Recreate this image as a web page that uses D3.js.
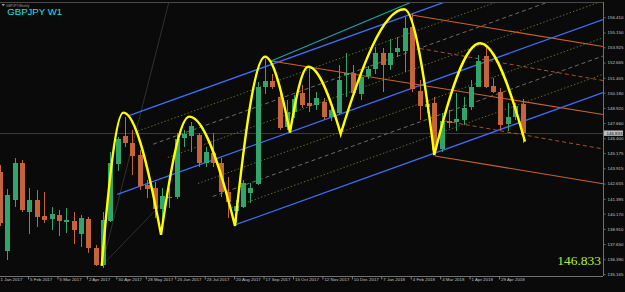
<!DOCTYPE html>
<html><head><meta charset="utf-8">
<script src="https://cdn.jsdelivr.net/npm/d3@7"></script>
<style>html,body{margin:0;padding:0;background:#0a0a0a;overflow:hidden}</style>
</head><body><svg id="c" width="625" height="292"></svg>
<script>
// ---- data (weekly GBPJPY candles, bar index 0 = week of 1 Jan 2017) ----
const opens  = [143.64,137.11,141.30,144.34,140.33,141.30,139.98,139.70,140.06,139.51,139.59,138.49,139.73,137.36,135.92,139.59,144.28,146.62,146.04,145.02,142.54,142.32,140.53,141.57,141.52,146.40,146.59,146.68,144.34,145.21,144.34,141.99,140.42,140.75,141.85,142.60,150.62,151.17,149.84,147.36,148.60,150.12,149.30,149.16,149.38,148.14,148.52,151.61,151.83,150.07,151.55,152.11,153.48,152.46,153.56,153.65,155.58,150.34,149.02,149.30,145.49,147.86,147.78,147.92,149.02,150.67,153.21,150.73,150.21,147.59,148.14,149.24];
const highs  = [144.19,142.18,144.75,144.61,142.32,142.13,141.99,140.70,140.47,140.61,140.33,140.06,139.92,137.58,140.33,145.29,146.53,148.14,147.09,145.43,142.95,142.79,142.27,142.27,146.82,147.09,147.78,146.82,145.71,146.82,144.75,143.23,141.30,142.95,142.73,151.06,152.94,151.72,150.73,149.57,149.98,150.81,152.19,150.26,149.74,148.99,152.46,153.43,152.46,151.72,152.38,153.98,153.85,154.59,154.76,156.46,156.74,151.22,149.43,149.79,148.47,148.74,150.17,149.84,151.22,153.29,153.98,151.36,150.54,149.30,149.30,149.63];
const lows   = [139.15,136.34,140.70,140.33,138.46,139.09,139.37,138.82,138.35,138.55,137.66,137.44,136.89,135.84,135.65,139.48,143.72,145.66,143.37,142.13,141.44,139.79,139.65,140.61,141.38,145.71,145.29,144.05,144.05,144.05,141.57,139.79,139.37,140.61,141.03,142.54,150.07,150.48,147.09,147.09,148.08,148.88,148.60,148.74,147.92,147.83,148.33,149.84,149.79,149.57,151.28,151.72,150.26,152.05,153.15,151.91,150.26,147.92,148.47,145.21,145.29,147.23,147.03,147.50,148.74,150.62,150.54,150.12,147.09,147.03,147.92,145.99];
const closes = [139.42,141.71,144.38,140.47,141.30,139.92,139.65,140.14,139.59,139.65,138.82,139.79,137.31,135.92,139.65,144.38,146.32,145.99,144.94,142.46,142.21,140.53,141.63,141.44,146.32,146.76,147.42,144.34,145.29,144.34,141.99,141.16,140.80,142.73,142.27,150.62,151.17,150.62,147.23,148.60,149.65,149.16,149.07,149.71,148.19,148.74,151.22,151.83,150.12,151.45,152.11,153.43,152.46,153.48,153.85,155.50,150.45,149.07,149.24,145.43,147.86,147.69,148.02,148.88,150.62,152.82,150.67,150.26,147.50,148.14,149.07,146.83];
const dateLabels = ["1 Jan 2017","5 Feb 2017","5 Mar 2017","2 Apr 2017","30 Apr 2017","28 May 2017","25 Jun 2017","23 Jul 2017","20 Aug 2017","17 Sep 2017","15 Oct 2017","12 Nov 2017","10 Dec 2017","7 Jan 2018","4 Feb 2018","4 Mar 2018","1 Apr 2018","29 Apr 2018"];
const priceTicks = [156.410,155.150,153.925,152.665,151.405,150.180,148.920,147.660,146.400,145.175,143.915,142.655,141.395,140.170,138.910,137.650,136.390,135.165];
const lastPrice = 146.833;
// swing points of the hand-drawn yellow wave [bar index, price]
const swingIdx   = [13.82,16.75,21.88,25.72,31.93,36.01,39.40,41.89,46.29,54.93,59.01,65.22,71.33];
const swingPrice = [135.84,148.52,138.41,148.19,139.15,153.15,146.87,152.32,146.76,157.07,145.02,154.26,146.12];
// rising channel (blue): anchors [index, price], common slope price/bar
const blueAnchorIdx   = [17.43,15.94,31.93];
const blueAnchorPrice = [148.25,141.77,139.23];
const blueSlope = 0.2191;
const subLevels = [0.25,0.5,0.75];
const subStartUpper = [18.75,20.8,22.8];
const subStartLower = [26.9,28.9,31.0];
// teal line
const tealLine = [36.68,152.75,81.93,164.32];
// falling channel (orange) solid and dashed
const orangeSolid  = [[36.68,152.82,81.93,148.37],[55.94,156.60,81.93,153.99],[59.10,144.94,81.93,142.64]];
const orangeDashed = [[57.07,153.83,81.93,151.18],[60.46,147.83,81.93,145.52]];
// faint fan lines
const fanLines = [[13.82,135.84,23.02,157.84],[13.82,135.84,23.1,141.71]];

// ---- drawing ----
const W=625,H=292,plotR=603,plotT=2,plotB=276;
const svg=d3.select('#c');
svg.append('rect').attr('width',W).attr('height',H).attr('fill','#0a0a0a');
const x=d3.scaleLinear().domain([0,82]).range([0,603.5]);
const y=d3.scaleLinear().domain([136.39,156.41]).range([259.3,17.3]);
svg.append('defs').append('clipPath').attr('id','clip').append('rect')
  .attr('x',0).attr('y',plotT).attr('width',plotR).attr('height',plotB-plotT);
const g=svg.append('g').attr('clip-path','url(#clip)');

// current price horizontal line
g.append('line').attr('x1',0).attr('x2',plotR).attr('y1',Math.round(y(lastPrice))+0.5).attr('y2',Math.round(y(lastPrice))+0.5)
  .attr('stroke','#3a3a3a').attr('stroke-width',1);

function seg(arr,color,w,dash){
  g.append('line').attr('x1',x(arr[0])).attr('y1',y(arr[1])).attr('x2',x(arr[2])).attr('y2',y(arr[3]))
   .attr('stroke',color).attr('stroke-width',w).attr('stroke-dasharray',dash||null);
}
fanLines.forEach(l=>seg(l,'#3a3a3a',0.8));
const bluePrice=(k,i)=>blueAnchorPrice[k]+blueSlope*(i-blueAnchorIdx[k]);
const endI=81.93;
// sub-lines
subLevels.forEach((f,j)=>{
  const col = f===0.5?'#767676':'#6e6e38';
  const dash = f===0.5?'4,3':'1.5,2';
  [[0,1,subStartUpper[j]],[1,2,subStartLower[j]]].forEach(([a,b,s])=>{
    const p1=bluePrice(a,s)+f*(bluePrice(b,s)-bluePrice(a,s));
    const p2=bluePrice(a,endI)+f*(bluePrice(b,endI)-bluePrice(a,endI));
    seg([s,p1,endI,p2],col,0.9,dash);
  });
});
orangeDashed.forEach(l=>seg(l,'#b8582a',0.9,'4,3'));
orangeSolid.forEach(l=>seg(l,'#cc6428',1.1));
seg(tealLine,'#1ea5a5',1.1);
blueAnchorIdx.forEach((a,k)=>seg([a,blueAnchorPrice[k],endI,bluePrice(k,endI)],'#3f6ff5',1.3));

// candles
const bull='#32a56b', bear='#c4643a';
const idx=d3.range(opens.length);
const cg=g.append('g').attr('shape-rendering','crispEdges');
cg.selectAll('rect.w').data(idx).join('rect').attr('class','w')
  .attr('x',i=>Math.round(x(i))).attr('width',1)
  .attr('y',i=>y(highs[i])).attr('height',i=>y(lows[i])-y(highs[i]))
  .attr('fill',i=>closes[i]>=opens[i]?bull:bear);
cg.selectAll('rect.b').data(idx).join('rect').attr('class','b')
  .attr('x',i=>Math.round(x(i))-2).attr('width',5)
  .attr('y',i=>y(Math.max(opens[i],closes[i])))
  .attr('height',i=>Math.max(1,Math.abs(y(opens[i])-y(closes[i]))))
  .attr('fill',i=>closes[i]>=opens[i]?bull:bear);

// yellow wave
const pts=swingIdx.map((v,i)=>[x(v),y(swingPrice[i])]);
let d='M'+pts[0][0]+','+pts[0][1];
for(let k=1;k<pts.length;k++){
  const [x0,y0]=pts[k-1],[x1,y1]=pts[k];
  const up = y1<y0;
  if(up){
    d+=`C${x0+(x1-x0)*0.33},${y0+(y1-y0)*0.55} ${x0+(x1-x0)*0.67},${y1} ${x1},${y1}`;
  } else {
    d+=`C${x0+(x1-x0)*0.33},${y0} ${x0+(x1-x0)*0.67},${y0+(y1-y0)*0.45} ${x1},${y1}`;
  }
}
g.append('path').attr('d',d).attr('fill','none').attr('stroke','#ffff00').attr('stroke-width',2.4);

// frame
svg.append('line').attr('x1',0).attr('x2',plotR).attr('y1',plotT+0.5).attr('y2',plotT+0.5).attr('stroke','#4a4a4a');

// price axis
const ya=svg.append('g').attr('transform',`translate(${plotR+0.5},0)`)
  .call(d3.axisRight(y).tickValues(priceTicks).tickFormat(d3.format('.3f')).tickSize(2).tickPadding(2));
ya.select('.domain').attr('stroke','#707070').attr('d',`M0,${plotT}V${plotB}`);
ya.selectAll('.tick line').attr('stroke','#707070');
ya.selectAll('text').attr('fill','#c4c4c4').attr('font-family','Liberation Sans, Arial').attr('font-size',4.4);
const lp=svg.append('g').attr('transform',`translate(${plotR+1},${y(lastPrice)})`);
lp.append('rect').attr('x',0).attr('y',-2.6).attr('width',19).attr('height',5.4).attr('fill','#bdbdbd');
lp.append('text').attr('x',2.5).attr('y',1.6).text(d3.format('.3f')(lastPrice))
  .attr('fill','#111').attr('font-family','Liberation Sans, Arial').attr('font-size',4.4);

// time axis
const xa=svg.append('g').attr('transform',`translate(-1.4,${plotB+0.5})`)
  .call(d3.axisBottom(x).tickValues(d3.range(0,opens.length,4)).tickFormat((v,i)=>dateLabels[i]).tickSize(3).tickPadding(0));
xa.select('.domain').attr('stroke','#707070').attr('d',`M1.4,0H${plotR+1.4}`);
xa.selectAll('.tick line').attr('stroke','#808080');
xa.selectAll('text').attr('fill','#c4c4c4').attr('font-family','Liberation Sans, Arial').attr('font-size',4.4)
  .attr('text-anchor','start').attr('x',1.5).attr('y',1.5).attr('dy','0.71em');

// titles
svg.append('path').attr('d','M1.5,4 L5,4 L3.25,6.2Z').attr('fill','#9a9a9a');
svg.append('text').attr('x',6).attr('y',6.5).text('GBPJPY,Weekly').attr('fill','#9a9a9a')
  .attr('font-family','Liberation Sans, Arial').attr('font-size',3.2);
svg.append('text').attr('x',7.3).attr('y',15.2).text('GBPJPY W1').attr('fill','#1fe1f0')
  .attr('font-family','Liberation Sans, Arial').attr('font-size',9.6);
svg.append('text').attr('x',601).attr('y',264.5).attr('text-anchor','end').text(d3.format('.3f')(lastPrice))
  .attr('fill','#b2ee3a').attr('font-family','Liberation Serif, Times New Roman').attr('font-size',13.5);
</script></body></html>
